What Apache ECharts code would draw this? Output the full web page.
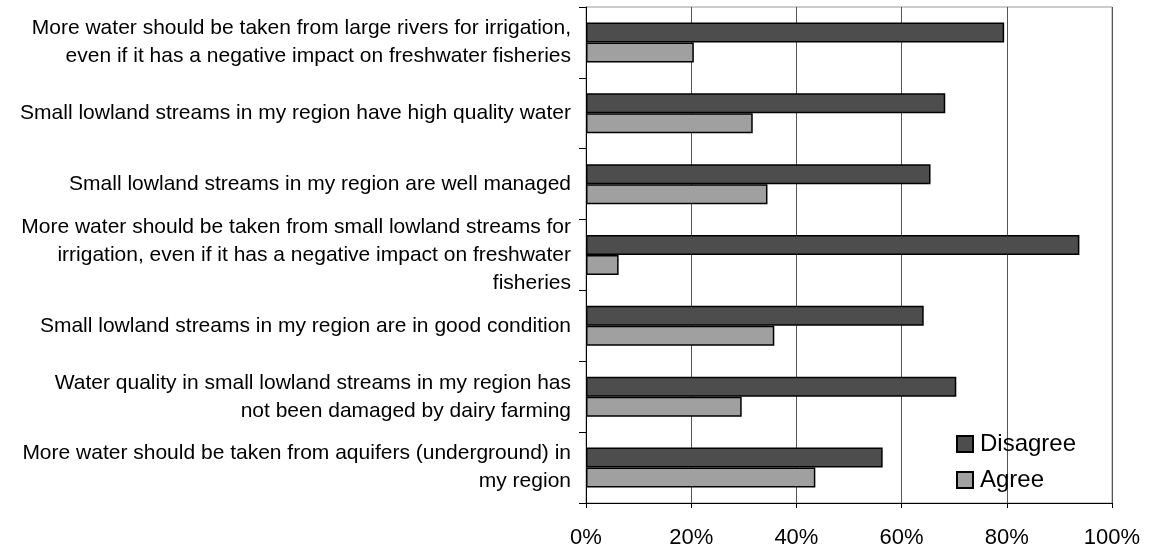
<!DOCTYPE html>
<html>
<head>
<meta charset="utf-8">
<script src="https://cdn.jsdelivr.net/npm/echarts@6/dist/echarts.min.js"></script>
<style>
    html, body { margin: 0; padding: 0; background: #fff; }
    #chart { width: 1151px; height: 552px; }
</style>
</head>
<body>
<div id="chart"></div>
<script>
    // statements, top to bottom
    const categories = [
        'More water should be taken from large rivers for irrigation,\neven if it has a negative impact on freshwater fisheries',
        'Small lowland streams in my region have high quality water',
        'Small lowland streams in my region are well managed',
        'More water should be taken from small lowland streams for\nirrigation, even if it has a negative impact on freshwater\nfisheries',
        'Small lowland streams in my region are in good condition',
        'Water quality in small lowland streams in my region has\nnot been damaged by dairy farming',
        'More water should be taken from aquifers (underground) in\nmy region'
    ];
    const disagree = [79.5, 68.3, 65.5, 93.8, 64.2, 70.4, 56.4];
    const agree = [20.5, 31.7, 34.5, 6.2, 35.8, 29.6, 43.6];
    const xTicks = [0, 20, 40, 60, 80, 100];

    const font = '"Liberation Sans", Arial, sans-serif';
    const chart = echarts.init(document.getElementById('chart'));
    chart.setOption({
        animation: false,
        textStyle: {fontFamily: font},
        grid: {
            left: 586,
            top: 7,
            right: 39,
            bottom: 49,
            show: true,
            borderColor: '#999',
            borderWidth: 1
        },
        legend: {
            orient: 'vertical',
            left: 951,
            top: 427,
            itemWidth: 16,
            itemHeight: 16,
            itemGap: 12,
            icon: 'rect',
            data: ['Disagree', 'Agree'],
            textStyle: {fontSize: 24, color: '#000', fontFamily: font, padding: [0, 0, 0, 2]}
        },
        xAxis: {
            type: 'value',
            min: xTicks[0],
            max: xTicks[xTicks.length - 1],
            interval: 20,
            axisLine: {show: true, lineStyle: {color: '#000', width: 1}},
            axisTick: {show: true, length: 5, lineStyle: {color: '#000'}},
            splitLine: {show: true, lineStyle: {color: '#555', width: 1}},
            axisLabel: {
                formatter: '{value}%',
                fontSize: 22,
                color: '#000',
                margin: 24,
                fontFamily: font
            }
        },
        yAxis: {
            type: 'category',
            inverse: true,
            data: categories,
            axisLine: {show: true, lineStyle: {color: '#000', width: 1}},
            axisTick: {show: true, length: 7, lineStyle: {color: '#000'}},
            axisLabel: {
                fontSize: 21,
                lineHeight: 28,
                color: '#000',
                margin: 15,
                align: 'right',
                fontFamily: font
            }
        },
        series: [
            {
                name: 'Disagree',
                type: 'bar',
                data: disagree,
                barWidth: 20,
                barGap: '0%',
                itemStyle: {color: '#4d4d4d', borderColor: '#000', borderWidth: 1.5}
            },
            {
                name: 'Agree',
                type: 'bar',
                data: agree,
                barWidth: 20,
                itemStyle: {color: '#a0a0a0', borderColor: '#000', borderWidth: 1.5}
            }
        ]
    });
</script>
</body>
</html>
